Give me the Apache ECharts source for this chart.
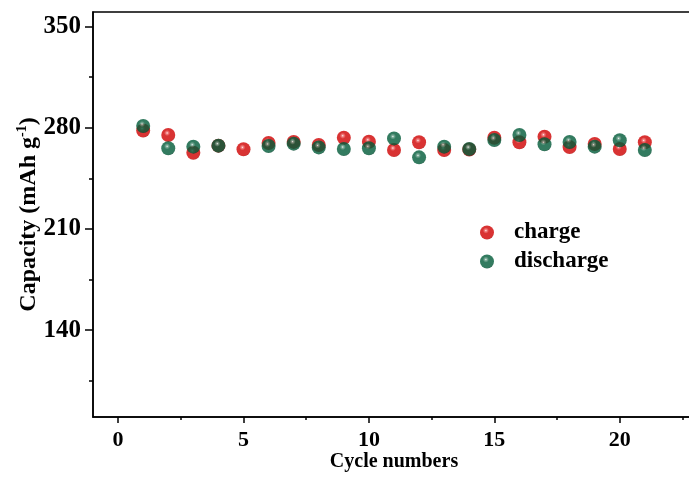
<!DOCTYPE html>
<html>
<head>
<meta charset="utf-8">
<script src="https://cdn.jsdelivr.net/npm/echarts@6/dist/echarts.min.js"></script>
<style>
  html, body { margin: 0; padding: 0; background: #fff; }
  #chart { width: 689px; height: 477px; }
</style>
</head>
<body>
<div id="chart"></div>
<script>
// Cycle index and measured capacities (mAh g^-1)
const cycles = [1, 2, 3, 4, 5, 6, 7, 8, 9, 10, 11, 12, 13, 14, 15, 16, 17, 18, 19, 20, 21];
const charge = [278.1, 275.0, 262.7, 267.6, 265.1, 269.4, 270.2, 268.0, 273.1, 270.3,
                264.6, 269.9, 264.6, 264.9, 273.1, 269.9, 273.8, 266.6, 268.7, 265.3, 269.9];
const discharge = [281.2, 265.8, 266.9, 267.6, null, 267.4, 269.0, 266.4, 265.3, 265.8,
                   272.6, 259.5, 266.9, 265.3, 271.5, 275.0, 268.6, 270.1, 266.9, 271.3, 264.6];

const xMajor = [0, 5, 10, 15, 20];
const xMinor = [2.5, 7.5, 12.5, 17.5, 22.5];
const yMajor = [140, 210, 280, 350];
const yMinor = [105, 175, 245, 315];

const FONT = '"Liberation Serif", "Times New Roman", serif';

function pairs(ys) {
  return cycles.map((c, i) => [c, ys[i]]).filter(p => p[1] != null);
}

// glossy sphere fill
function ball(base, dark, light) {
  return {
    type: 'radial', x: 0.42, y: 0.36, r: 0.68,
    colorStops: [
      { offset: 0, color: '#ffffff' },
      { offset: 0.1, color: light },
      { offset: 0.32, color: base },
      { offset: 0.85, color: base },
      { offset: 1, color: dark }
    ]
  };
}

const chart = echarts.init(document.getElementById('chart'), null, { renderer: 'canvas' });

const axisLineStyle = { color: '#000', width: 1.5 };

chart.setOption({
  animation: false,
  backgroundColor: '#fff',
  grid: {
    left: 93, top: 12, right: -6, bottom: 60,
    containLabel: false, outerBoundsMode: 'none',
    show: true, borderColor: '#000', borderWidth: 1.5, backgroundColor: 'transparent'
  },
  legend: {
    left: 475, top: 216,
    orient: 'vertical',
    itemWidth: 30, itemHeight: 14, itemGap: 6,
    icon: 'circle',
    textStyle: { fontFamily: FONT, fontWeight: 'bold', fontSize: 23, color: '#000', padding: [0, 0, 0, 7] },
    data: ['charge', 'discharge']
  },
  xAxis: [
    {
      type: 'value', min: -1, max: 23,
      name: 'Cycle numbers', nameLocation: 'middle', nameGap: 35, nameMoveOverlap: false,
      nameTextStyle: { fontFamily: FONT, fontWeight: 'bold', fontSize: 20, color: '#000' },
      axisLine: { show: true, onZero: false, lineStyle: axisLineStyle },
      axisTick: { show: true, length: 6, lineStyle: axisLineStyle, customValues: xMajor },
      axisLabel: { customValues: xMajor, margin: 12, fontFamily: FONT, fontWeight: 'bold', fontSize: 22, color: '#000' },
      splitLine: { show: false }
    },
    {
      type: 'value', min: -1, max: 23, position: 'bottom',
      axisLine: { show: false, onZero: false },
      axisTick: { show: true, length: 3, lineStyle: axisLineStyle, customValues: xMinor },
      axisLabel: { show: false },
      splitLine: { show: false }
    }
  ],
  yAxis: [
    {
      type: 'value', min: 80, max: 360,
      name: '{b|Capacity (mAh g}{s|-1}{b|)}', nameLocation: 'middle', nameGap: 52, nameRotate: 90,
      nameMoveOverlap: false,
      nameTextStyle: {
        rich: {
          b: { fontFamily: FONT, fontWeight: 'bold', fontSize: 24, color: '#000', lineHeight: 26, verticalAlign: 'bottom' },
          s: { fontFamily: FONT, fontWeight: 'bold', fontSize: 14, color: '#000', lineHeight: 26, verticalAlign: 'top' }
        }
      },
      axisLine: { show: true, onZero: false, lineStyle: axisLineStyle },
      axisTick: { show: true, length: 8, lineStyle: axisLineStyle, customValues: yMajor },
      axisLabel: { customValues: yMajor, margin: 12, fontFamily: FONT, fontWeight: 'bold', fontSize: 25, color: '#000' },
      splitLine: { show: false }
    },
    {
      type: 'value', min: 80, max: 360, position: 'left',
      axisLine: { show: false, onZero: false },
      axisTick: { show: true, length: 4, lineStyle: axisLineStyle, customValues: yMinor },
      axisLabel: { show: false },
      splitLine: { show: false }
    }
  ],
  series: [
    {
      name: 'charge', type: 'scatter', xAxisIndex: 0, yAxisIndex: 0,
      symbol: 'circle', symbolSize: 14,
      itemStyle: { color: ball('#cf0000', '#a00000', '#f06a6a') },
      data: pairs(charge)
    },
    {
      name: 'discharge', type: 'scatter', xAxisIndex: 0, yAxisIndex: 0,
      symbol: 'circle', symbolSize: 14,
      itemStyle: { color: ball('#005a38', '#003a24', '#6aa08a') },
      data: pairs(discharge)
    }
  ]
});
</script>
</body>
</html>
